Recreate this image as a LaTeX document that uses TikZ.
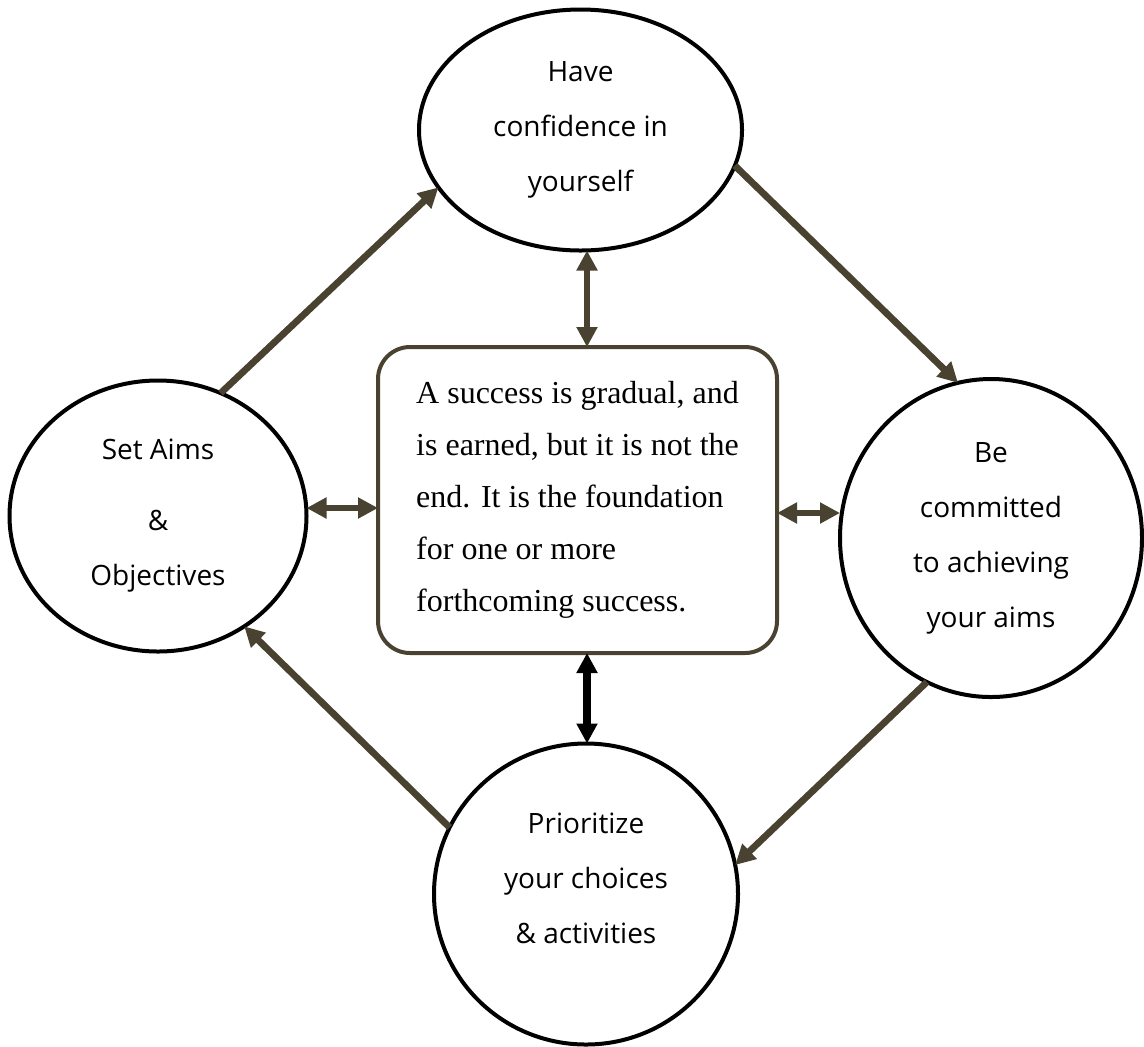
\documentclass[tikz,border=0pt]{standalone}
\usepackage{fontspec}
\setmainfont{Liberation Serif}
\newfontfamily\bubblefont{Open Sans}
\usepackage{xcolor}
\usetikzlibrary{arrows.meta,shapes.geometric}
\definecolor{darkolive}{HTML}{4A4230}

\begin{document}
\begin{tikzpicture}[
    x=0.5pt, y=-0.5pt,
    bubble/.style={draw, ellipse, line width=2pt, inner sep=0pt, outer sep=0pt, align=center, font=\bubblefont\fontsize{14}{27.5}\selectfont},
    msgbox/.style={draw=darkolive, line width=2pt, rounded corners=16pt, outer sep=0pt, minimum width=199.5pt, minimum height=153pt, align=left, font=\fontsize{16}{26}\selectfont},
    arr/.style={-{Triangle[length=10pt, width=10pt]}, line width=3.4pt, draw=darkolive},
    biarr/.style={{Triangle[length=10pt, width=10pt]}-{Triangle[length=10pt, width=10pt]}, line width=3.4pt, draw=darkolive}
  ]
  \useasboundingbox (0,0) rectangle (1144,1046);

  % Centre
  \node[msgbox] (core) at (577.5,500) {A success is gradual, and\\is earned, but it is not the\\end. It is the foundation\\for one or more\\forthcoming success.};

  % Bubbles
  \node[bubble, minimum width=161.5pt, minimum height=120.5pt] (confidence) at (580.5,130) {Have\\confidence in\\yourself};
  \node[bubble, minimum width=148.5pt, minimum height=135.5pt] (aims) at (158,516) {Set Aims\\[8pt]\&\\Objectives};
  \node[bubble, minimum width=151pt, minimum height=159pt] (commit) at (991,538) {Be\\committed\\to achieving\\your aims};
  \node[bubble, minimum width=152pt, minimum height=150.5pt] (prior) at (586,894) {Prioritize\\your choices\\\& activities\\[-12pt]\mbox{}};

  % Centre links
  \draw[biarr] ([xshift=4.75pt]core.north) -- ([xshift=4.75pt]core.north |- confidence.south);
  \draw[biarr] ([yshift=-4pt]core.west) -- ([yshift=-4pt]core.west -| aims.east);
  \draw[biarr] ([yshift=-6.5pt]core.east) -- ([yshift=-6.5pt]core.east -| commit.west);
  \draw[biarr, draw=black, line width=3.8pt] ([xshift=4.75pt]core.south) -- ([xshift=4.75pt]core.south |- prior.north);

  % Cycle
  \draw[arr] (aims.63.6) -- (confidence.202);
  \draw[arr] (confidence.-13.3) -- (commit.102);
  \draw[arr] (commit.246) -- (prior.11.4);
  \draw[arr] (prior.154) -- (aims.-52.6);
\end{tikzpicture}
\end{document}
